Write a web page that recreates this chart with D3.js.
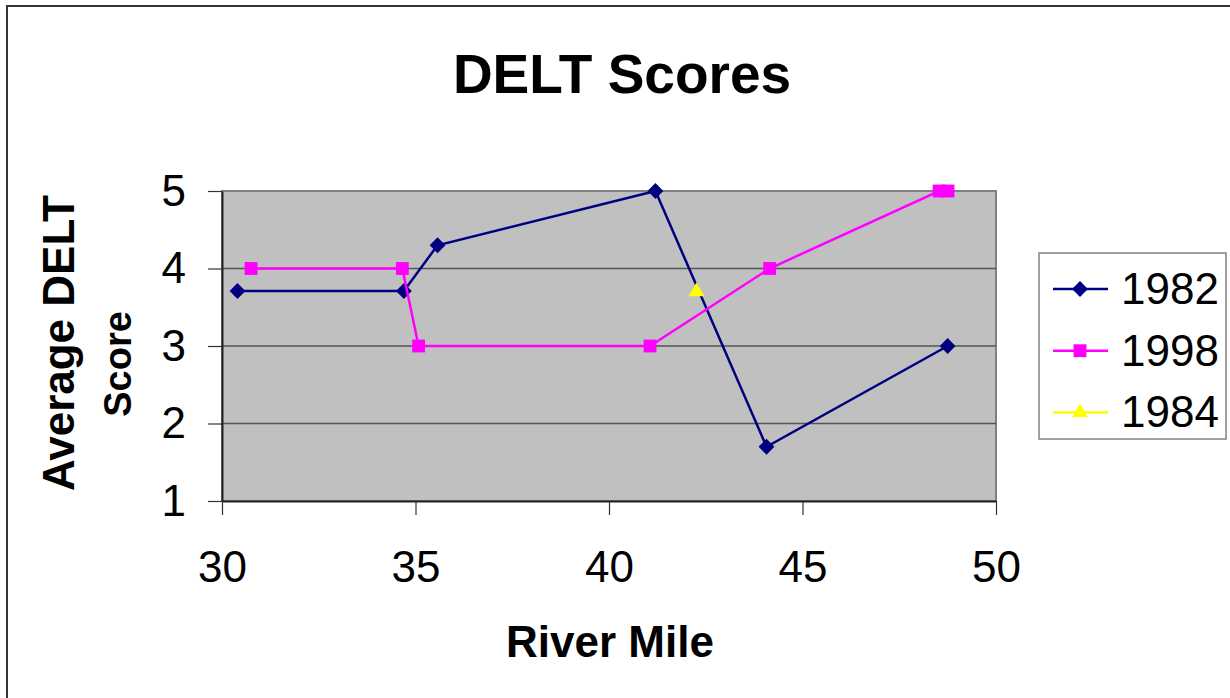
<!DOCTYPE html>
<html>
<head>
<meta charset="utf-8">
<script src="https://cdn.jsdelivr.net/npm/d3@7"></script>
<style>
  body { margin: 0; background: #fff; }
  svg { display: block; font-family: Arial, "Liberation Sans", sans-serif; }
</style>
</head>
<body>
<svg id="chart"></svg>
<script>
// data
const miles1982 = [30.4, 34.7, 35.57, 41.2, 44.07, 48.75];
const scores1982 = [3.71, 3.71, 4.3, 5, 1.7, 3];
const miles1998 = [30.75, 34.66, 35.08, 41.06, 44.15, 48.53, 48.76];
const scores1998 = [4, 4, 3, 3, 4, 5, 5];
const miles1984 = [42.26];
const scores1984 = [3.7];
const xTicks = [30, 35, 40, 45, 50];
const yTicks = [1, 2, 3, 4, 5];

const series = [
  { name: '1982', color: '#000080', shape: d3.symbolSquare, size: 125, rot: 45, x: miles1982, y: scores1982 },
  { name: '1998', color: '#FF00FF', shape: d3.symbolSquare, size: 165, rot: 0, x: miles1998, y: scores1998 },
  { name: '1984', color: '#FFFF00', shape: d3.symbolTriangle, size: 110, rot: 0, x: miles1984, y: scores1984 }
];

const W = 1230, H = 698;
const plot = { left: 222, right: 996, top: 191, bottom: 501 };

const svg = d3.select('#chart').attr('width', W).attr('height', H);

// outer frame
svg.append('rect')
  .attr('x', 7).attr('y', 6).attr('width', 1230).attr('height', 700)
  .attr('fill', '#fff').attr('stroke', '#333').attr('stroke-width', 2);

const xScale = d3.scaleLinear().domain([30, 50]).range([plot.left, plot.right]);
const yScale = d3.scaleLinear().domain([1, 5]).range([plot.bottom, plot.top]);

// plot area
svg.append('rect')
  .attr('x', plot.left).attr('y', plot.top)
  .attr('width', plot.right - plot.left).attr('height', plot.bottom - plot.top)
  .attr('fill', '#C0C0C0').attr('stroke', '#808080').attr('stroke-width', 2);

// gridlines
svg.append('g')
  .selectAll('line')
  .data(yTicks.filter(d => d > 1 && d < 5))
  .enter()
  .append('line')
  .attr('x1', plot.left).attr('x2', plot.right)
  .attr('y1', d => yScale(d)).attr('y2', d => yScale(d))
  .attr('stroke', '#555').attr('stroke-width', 1.5);

// X-axis
const xAxis = svg.append('g')
  .attr('transform', `translate(0,${plot.bottom})`)
  .call(d3.axisBottom(xScale).tickValues(xTicks).tickFormat(d3.format('d'))
    .tickSize(14).tickPadding(36).tickSizeOuter(0));
xAxis.select('.domain').attr('stroke', '#222').attr('stroke-width', 2);
xAxis.selectAll('.tick line').attr('stroke', '#333').attr('stroke-width', 1.2);
xAxis.selectAll('text').style('font-size', '44px').attr('fill', '#000');

// Y-axis
const yAxis = svg.append('g')
  .attr('transform', `translate(${plot.left},0)`)
  .call(d3.axisLeft(yScale).tickValues(yTicks).tickFormat(d3.format('d'))
    .tickSize(14).tickPadding(22).tickSizeOuter(0));
yAxis.select('.domain').attr('stroke', '#222').attr('stroke-width', 2);
yAxis.selectAll('.tick line').attr('stroke', '#333').attr('stroke-width', 1.2);
yAxis.selectAll('text').style('font-size', '44px').attr('fill', '#000');

// lines + markers
const line = d3.line().x(d => xScale(d[0])).y(d => yScale(d[1]));
series.forEach(s => {
  const pts = s.x.map((v, i) => [v, s.y[i]]);
  svg.append('path')
    .datum(pts)
    .attr('d', line)
    .attr('fill', 'none')
    .attr('stroke', s.color)
    .attr('stroke-width', 2.5);
  svg.append('g')
    .selectAll('path')
    .data(pts)
    .enter()
    .append('path')
    .attr('d', d3.symbol().type(s.shape).size(s.size))
    .attr('transform', d => `translate(${xScale(d[0])},${yScale(d[1])}) rotate(${s.rot})`)
    .attr('fill', s.color);
});

// title
svg.append('text')
  .attr('x', 622).attr('y', 93)
  .attr('text-anchor', 'middle')
  .style('font-size', '55px').style('font-weight', 'bold')
  .text('DELT Scores');

// axis titles
svg.append('text')
  .attr('x', 610).attr('y', 657)
  .attr('text-anchor', 'middle')
  .style('font-size', '44px').style('font-weight', 'bold')
  .text('River Mile');

svg.append('text')
  .attr('transform', 'translate(74,343) rotate(-90)')
  .attr('text-anchor', 'middle')
  .style('font-size', '44px').style('font-weight', 'bold')
  .text('Average DELT');
svg.append('text')
  .attr('transform', 'translate(131,364) rotate(-90)')
  .attr('text-anchor', 'middle')
  .style('font-size', '38px').style('font-weight', 'bold')
  .text('Score');

// legend
const legend = svg.append('g');
legend.append('rect')
  .attr('x', 1039).attr('y', 253).attr('width', 187).attr('height', 186)
  .attr('fill', '#fff').attr('stroke', '#808080').attr('stroke-width', 1.5);

series.forEach((s, i) => {
  const g = legend.append('g').attr('transform', `translate(0,${289 + i * 61.7})`);
  g.append('line')
    .attr('x1', 1053).attr('x2', 1108).attr('y1', 0).attr('y2', 0)
    .attr('stroke', s.color).attr('stroke-width', 2.5);
  g.append('path')
    .attr('d', d3.symbol().type(s.shape).size(s.size))
    .attr('transform', `translate(1080,0) rotate(${s.rot})`)
    .attr('fill', s.color);
  g.append('text')
    .attr('x', 1121).attr('y', 15)
    .style('font-size', '44px')
    .text(s.name);
});
</script>
</body>
</html>
